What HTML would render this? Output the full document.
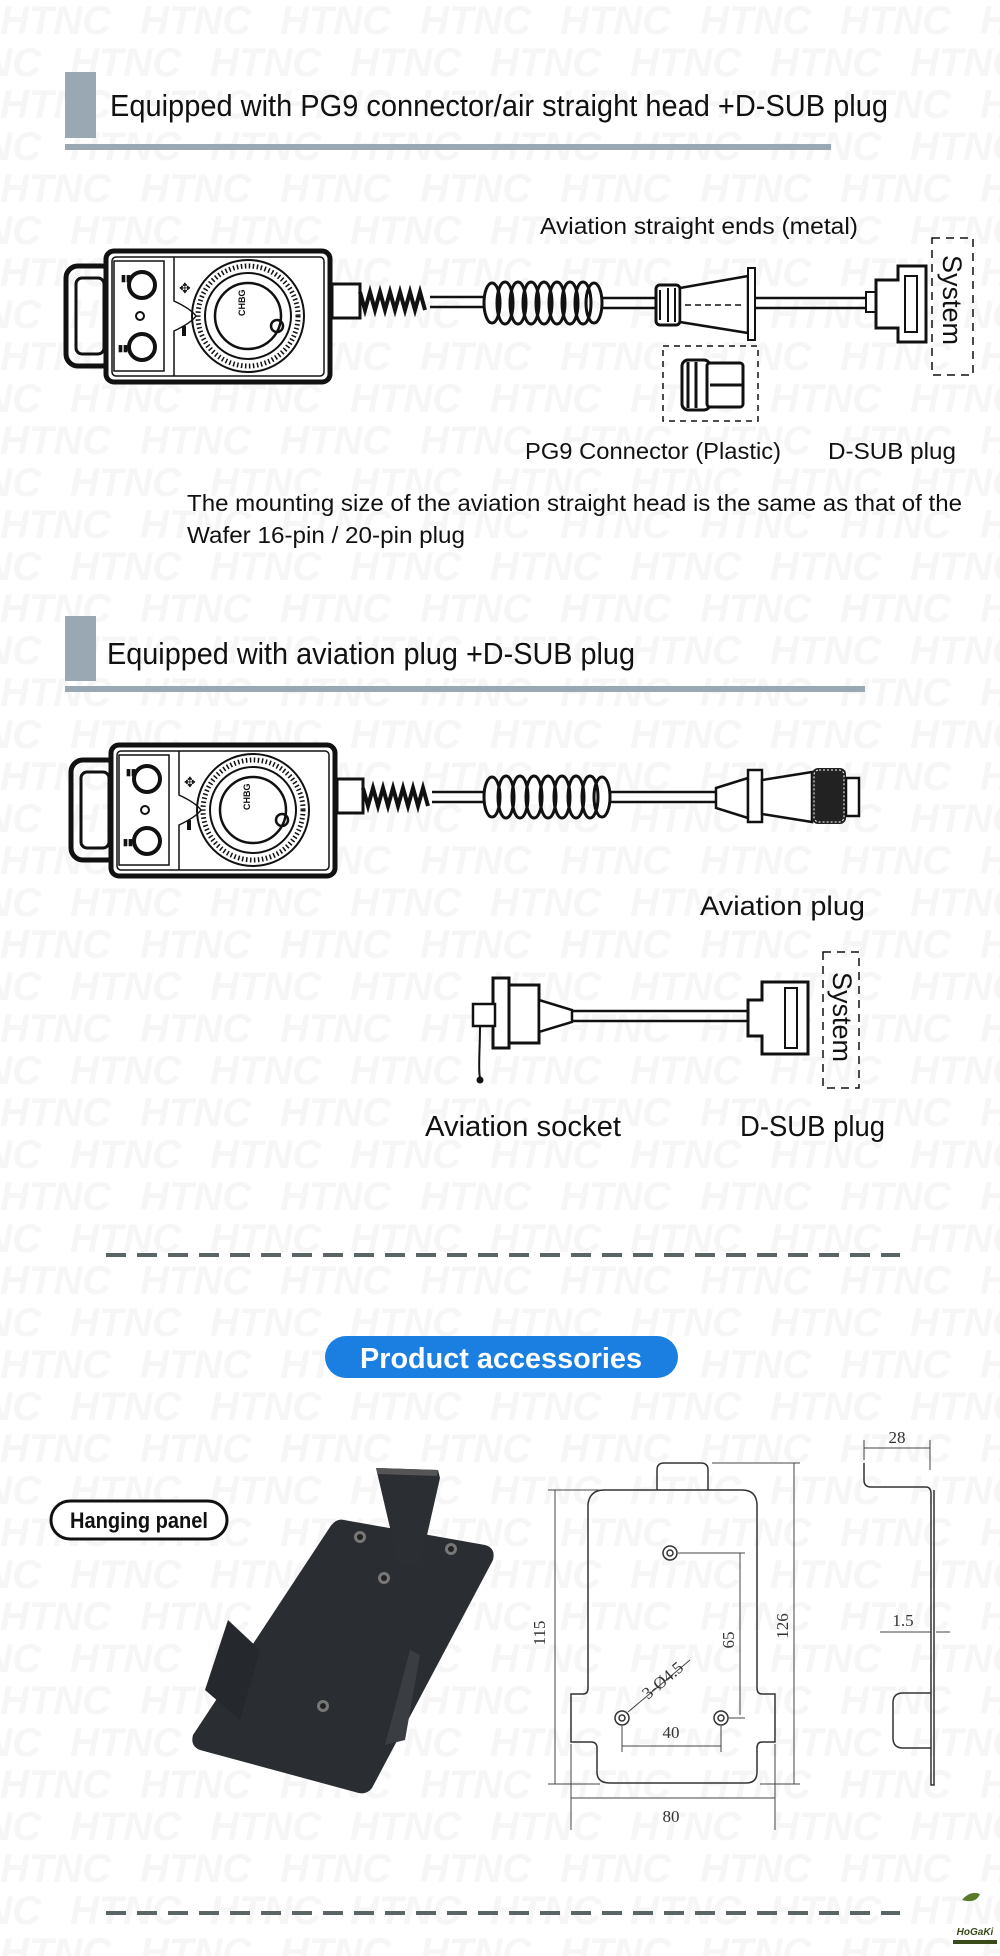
<!DOCTYPE html>
<html><head><meta charset="utf-8"><style>
html,body{margin:0;padding:0;background:#fff}
body{width:1000px;height:1956px;overflow:hidden;position:relative;font-family:"Liberation Sans",sans-serif}
svg{position:absolute;left:0;top:0}
</style></head><body>
<svg width="1000" height="1956" viewBox="0 0 1000 1956" xmlns="http://www.w3.org/2000/svg">
<defs>
<pattern id="wm" x="0" y="0" width="140" height="84" patternUnits="userSpaceOnUse">
<text x="0" y="34" font-family="Liberation Sans" font-weight="bold" font-style="italic" font-size="40" fill="#f6f6f6">HTNC</text>
<text x="70" y="76" font-family="Liberation Sans" font-weight="bold" font-style="italic" font-size="40" fill="#f6f6f6">HTNC</text>
<text x="-70" y="76" font-family="Liberation Sans" font-weight="bold" font-style="italic" font-size="40" fill="#f6f6f6">HTNC</text>
</pattern>
<g id="dev">
<rect x="0" y="15" width="48" height="100" rx="12" fill="none" stroke="#111" stroke-width="5"/>
<rect x="10" y="27" width="28" height="76" rx="6" fill="none" stroke="#111" stroke-width="3"/>
<rect x="40" y="0" width="224" height="131" rx="8" fill="#fff" stroke="#111" stroke-width="5"/>
<rect x="46" y="6" width="212" height="119" rx="4" fill="none" stroke="#111" stroke-width="1.5"/>
<rect x="48" y="10" width="50" height="110" fill="none" stroke="#111" stroke-width="1.5"/>
<circle cx="76" cy="34" r="13" fill="none" stroke="#111" stroke-width="4"/>
<circle cx="76" cy="96" r="13" fill="none" stroke="#111" stroke-width="4"/>
<circle cx="74" cy="65" r="4" fill="none" stroke="#111" stroke-width="2"/>
<text x="55" y="30" font-size="9" font-weight="bold" fill="#111">▮▮</text>
<text x="52" y="100" font-size="9" font-weight="bold" fill="#111">▮▮</text>
<path d="M108 6 V50 Q125 58 130 65 Q125 72 108 80 V125" fill="none" stroke="#111" stroke-width="1.5"/>
<circle cx="182" cy="65" r="56" fill="none" stroke="#111" stroke-width="2"/>
<circle cx="182" cy="65" r="50" fill="none" stroke="#111" stroke-width="5" stroke-dasharray="1.5 2.5"/>
<circle cx="182" cy="65" r="43" fill="none" stroke="#111" stroke-width="2"/>
<circle cx="182" cy="65" r="33" fill="none" stroke="#111" stroke-width="2.5"/>
<circle cx="211" cy="75" r="6" fill="none" stroke="#111" stroke-width="2.5"/>
<text x="172" y="72" font-size="9" font-weight="bold" fill="#111" transform="rotate(-90 172 65)">CHBG</text>
<text x="113" y="42" font-size="14" fill="#111">✥</text>
<rect x="116" y="75" width="4" height="10" fill="#111"/>
</g>
</defs>
<rect width="1000" height="1956" fill="url(#wm)"/>

<rect x="65" y="72" width="31" height="66" fill="#9aa8b3"/>
<rect x="65" y="144" width="766" height="6" fill="#9aa8b3"/>
<text x="110" y="116" font-size="31" fill="#111" textLength="778" lengthAdjust="spacingAndGlyphs">Equipped with PG9 connector/air straight head +D-SUB plug</text>
<text x="540" y="234" font-size="23" fill="#111" textLength="318" lengthAdjust="spacingAndGlyphs">Aviation straight ends (metal)</text>

<use href="#dev" x="66" y="251"/>
<rect x="332" y="284" width="28" height="34" fill="#fff" stroke="#111" stroke-width="3"/>
<path d="M360 292 l5 18 l5 -18 l5 18 l5 -18 l5 18 l5 -18 l5 18 l5 -18 l5 18 l5 -18 l5 18 l5 -18 l5 18" fill="none" stroke="#111" stroke-width="4"/>
<path d="M430 297 H485 M430 307 H485" stroke="#111" stroke-width="2.5"/>
<g fill="none" stroke="#111" stroke-width="3">
<ellipse cx="492" cy="303" rx="8" ry="20"/><ellipse cx="505" cy="303" rx="8" ry="21"/><ellipse cx="518" cy="303" rx="8" ry="21"/><ellipse cx="531" cy="303" rx="8" ry="21"/><ellipse cx="544" cy="303" rx="8" ry="21"/><ellipse cx="557" cy="303" rx="8" ry="21"/><ellipse cx="570" cy="303" rx="8" ry="21"/><ellipse cx="583" cy="303" rx="8" ry="21"/><ellipse cx="594" cy="303" rx="8" ry="20"/>
</g>
<path d="M602 298 H656 M602 308 H656" stroke="#111" stroke-width="2.5"/>
<rect x="656" y="285" width="24" height="40" rx="4" fill="#fff" stroke="#111" stroke-width="3"/>
<path d="M660 290 v30 M668 288 v34 M675 288 v34" stroke="#111" stroke-width="2"/>
<path d="M680 288 L748 276 V333 L680 322 Z" fill="#fff" stroke="#111" stroke-width="2.5"/>
<rect x="748" y="268" width="7" height="72" fill="#fff" stroke="#111" stroke-width="2"/>
<path d="M685 305 H745" stroke="#111" stroke-width="1.5" stroke-dasharray="6 4"/>
<path d="M755 298 H866 M755 308 H866" stroke="#111" stroke-width="2.5"/>
<rect x="866" y="292" width="10" height="20" fill="#fff" stroke="#111" stroke-width="2"/>
<path d="M876 280 h22 v-14 h28 v76 h-28 v-14 h-22 z" fill="#fff" stroke="#111" stroke-width="3"/>
<rect x="905" y="276" width="12" height="56" fill="none" stroke="#111" stroke-width="2"/>
<rect x="932" y="238" width="41" height="137" fill="none" stroke="#111" stroke-width="1.5" stroke-dasharray="8 6"/>
<text x="943" y="255" font-size="27" fill="#111" transform="rotate(90 943 255)">System</text>
<rect x="663" y="346" width="95" height="75" fill="none" stroke="#111" stroke-width="1.5" stroke-dasharray="6 5"/>
<rect x="682" y="360" width="28" height="50" rx="6" fill="#fff" stroke="#111" stroke-width="3"/>
<rect x="707" y="363" width="36" height="44" rx="3" fill="#fff" stroke="#111" stroke-width="3"/>
<path d="M688 362 v46 M696 362 v46 M710 385 h32" stroke="#111" stroke-width="3"/>
<text x="525" y="459" font-size="23" fill="#111" textLength="256" lengthAdjust="spacingAndGlyphs">PG9 Connector (Plastic)</text>
<text x="828" y="459" font-size="23" fill="#111" textLength="128" lengthAdjust="spacingAndGlyphs">D-SUB plug</text>
<text x="187" y="511" font-size="23" fill="#111" textLength="775" lengthAdjust="spacingAndGlyphs">The mounting size of the aviation straight head is the same as that of the</text>
<text x="187" y="543" font-size="23" fill="#111" textLength="278" lengthAdjust="spacingAndGlyphs">Wafer 16-pin / 20-pin plug</text>

<rect x="65" y="616" width="31" height="65" fill="#9aa8b3"/>
<rect x="65" y="686" width="800" height="6" fill="#9aa8b3"/>
<text x="107" y="664" font-size="31" fill="#111" textLength="528" lengthAdjust="spacingAndGlyphs">Equipped with aviation plug +D-SUB plug</text>
<use href="#dev" x="71" y="745"/>
<rect x="337" y="779" width="26" height="34" fill="#fff" stroke="#111" stroke-width="3"/>
<path d="M363 788 l5 18 l5 -18 l5 18 l5 -18 l5 18 l5 -18 l5 18 l5 -18 l5 18 l5 -18 l5 18 l5 -18 l5 18" fill="none" stroke="#111" stroke-width="4"/>
<path d="M432 792 H485 M432 802 H485" stroke="#111" stroke-width="2.5"/>
<g fill="none" stroke="#111" stroke-width="3">
<ellipse cx="492" cy="797" rx="8" ry="20"/><ellipse cx="506" cy="797" rx="8" ry="21"/><ellipse cx="520" cy="797" rx="8" ry="21"/><ellipse cx="534" cy="797" rx="8" ry="21"/><ellipse cx="548" cy="797" rx="8" ry="21"/><ellipse cx="562" cy="797" rx="8" ry="21"/><ellipse cx="576" cy="797" rx="8" ry="21"/><ellipse cx="590" cy="797" rx="8" ry="21"/><ellipse cx="602" cy="797" rx="8" ry="20"/>
</g>
<path d="M610 792 H716 M610 802 H716" stroke="#111" stroke-width="2.5"/>
<path d="M716 788 L748 778 V818 L716 808 Z" fill="#fff" stroke="#111" stroke-width="2.5"/>
<rect x="748" y="770" width="14" height="52" fill="#fff" stroke="#111" stroke-width="2.5"/>
<path d="M762 780 L812 772 V822 L762 814 Z" fill="#fff" stroke="#111" stroke-width="2.5"/>
<rect x="812" y="768" width="34" height="56" rx="6" fill="#222"/>
<rect x="814" y="770" width="30" height="52" rx="5" fill="none" stroke="#fff" stroke-width="1" stroke-dasharray="2 2"/>
<rect x="846" y="778" width="13" height="38" fill="#fff" stroke="#111" stroke-width="2.5"/>
<text x="700" y="915" font-size="27" fill="#111" textLength="165" lengthAdjust="spacingAndGlyphs">Aviation plug</text>

<rect x="493" y="978" width="16" height="70" fill="#fff" stroke="#111" stroke-width="3"/>
<rect x="509" y="985" width="30" height="58" fill="#fff" stroke="#111" stroke-width="3"/>
<rect x="473" y="1004" width="22" height="22" fill="#fff" stroke="#111" stroke-width="2.5"/>
<path d="M539 1000 L572 1010 V1022 L539 1032 Z" fill="#fff" stroke="#111" stroke-width="2.5"/>
<path d="M480 1026 C480 1050 478 1070 480 1078" fill="none" stroke="#111" stroke-width="2"/>
<circle cx="480" cy="1080" r="3.5" fill="#111"/>
<path d="M572 1011 H748 M572 1021 H748" stroke="#111" stroke-width="2.5"/>
<path d="M748 1000 h14 v-18 h46 v72 h-46 v-18 h-14 z" fill="#fff" stroke="#111" stroke-width="3"/>
<rect x="785" y="988" width="12" height="60" fill="none" stroke="#111" stroke-width="2"/>
<rect x="823" y="952" width="36" height="136" fill="none" stroke="#111" stroke-width="1.5" stroke-dasharray="8 6"/>
<text x="833" y="972" font-size="27" fill="#111" transform="rotate(90 833 972)">System</text>
<text x="425" y="1136" font-size="29" fill="#111" textLength="196" lengthAdjust="spacingAndGlyphs">Aviation socket</text>
<text x="740" y="1136" font-size="29" fill="#111" textLength="145" lengthAdjust="spacingAndGlyphs">D-SUB plug</text>

<line x1="106" y1="1255" x2="900" y2="1255" stroke="#5b6566" stroke-width="4" stroke-dasharray="20 11"/>

<rect x="325" y="1336" width="353" height="42" rx="21" fill="#1a7fe0"/>
<text x="501" y="1368" text-anchor="middle" font-size="29" font-weight="bold" fill="#fff" textLength="282" lengthAdjust="spacingAndGlyphs">Product accessories</text>
<rect x="51" y="1501" width="176" height="38" rx="19" fill="#fff" stroke="#111" stroke-width="3"/>
<text x="139" y="1528" text-anchor="middle" font-size="22" font-weight="bold" fill="#111" textLength="138" lengthAdjust="spacingAndGlyphs">Hanging panel</text>

<path d="M344 1520 L485 1545 Q496 1548 493 1560 L372 1788 Q366 1796 355 1792 L200 1750 Q190 1746 193 1735 L330 1527 Q336 1518 344 1520 Z" fill="#2a2d31"/>
<path d="M376 1468 L438 1470 L440 1478 L420 1566 L398 1562 Z" fill="#2b2e33"/>
<path d="M376 1468 L438 1470 L437 1476 L378 1474 Z" fill="#555"/>
<path d="M228 1620 L260 1650 L240 1720 L205 1690 Z" fill="#25282c"/>
<path d="M410 1650 L420 1655 L405 1740 L385 1745 Z" fill="#3a3d42"/>
<circle cx="360" cy="1537" r="6" fill="#777"/><circle cx="360" cy="1537" r="3" fill="#222"/>
<circle cx="451" cy="1549" r="6" fill="#777"/><circle cx="451" cy="1549" r="3" fill="#222"/>
<circle cx="384" cy="1578" r="6" fill="#777"/><circle cx="384" cy="1578" r="3" fill="#222"/>
<circle cx="323" cy="1706" r="6" fill="#777"/><circle cx="323" cy="1706" r="3" fill="#222"/>

<g fill="none" stroke="#333" stroke-width="1.5">
<path d="M657 1490 V1470 Q657 1463 664 1463 H701 Q708 1463 708 1470 V1490"/>
<path d="M604 1490 H742 Q756 1490 757 1504 V1688 Q757 1694 762 1694 H775 V1742 H762 Q757 1742 757 1748 V1772 Q757 1783 746 1783 H610 Q597 1783 597 1772 V1748 Q597 1742 591 1742 H571 V1694 H583 Q588 1694 588 1688 V1504 Q590 1490 604 1490 Z"/>
<circle cx="670" cy="1553" r="7"/><circle cx="670" cy="1553" r="3"/>
<circle cx="622" cy="1718" r="7"/><circle cx="622" cy="1718" r="3"/>
<circle cx="721" cy="1718" r="7"/><circle cx="721" cy="1718" r="3"/>
</g>
<g stroke="#444" stroke-width="1">
<path d="M548 1490 H600 M548 1784 H600 M555 1490 V1784"/>
<path d="M712 1463 H800 M760 1784 H800 M794 1463 V1784"/>
<path d="M678 1553 H745 M740 1553 V1715 M728 1718 H745"/>
<path d="M622 1726 V1752 M721 1726 V1752 M622 1746 H721"/>
<path d="M571 1744 V1830 M775 1744 V1830 M571 1798 H775"/>
<path d="M628 1712 L690 1660"/>
<path d="M864 1440 V1460 M930 1440 V1470 M864 1448 H930"/>
<path d="M880 1632 H931 M936 1632 H950"/>
</g>
<g fill="none" stroke="#333" stroke-width="1.5">
<path d="M864 1463 V1480 Q864 1487 871 1487 H926 Q931 1487 931 1494 V1785 H934 V1490"/>
<path d="M931 1693 H903 Q893 1693 893 1703 V1738 Q893 1748 903 1748 H931"/>
</g>
<g font-family="Liberation Serif" font-size="17" fill="#333">
<text x="545" y="1633" transform="rotate(-90 545 1633)" text-anchor="middle">115</text>
<text x="788" y="1626" transform="rotate(-90 788 1626)" text-anchor="middle">126</text>
<text x="734" y="1640" transform="rotate(-90 734 1640)" text-anchor="middle">65</text>
<text x="671" y="1738" text-anchor="middle">40</text>
<text x="671" y="1822" text-anchor="middle">80</text>
<text x="897" y="1443" text-anchor="middle">28</text>
<text x="903" y="1626" text-anchor="middle">1.5</text>
<text x="648" y="1700" transform="rotate(-40 648 1700)">3-Ø4.5</text>
</g>

<line x1="106" y1="1913" x2="900" y2="1913" stroke="#5b6566" stroke-width="4" stroke-dasharray="20 11"/>
<path d="M962 1900 q8 -10 18 -6 q-4 10 -18 6 z" fill="#5a7a2a"/>
<text x="975" y="1935" text-anchor="middle" font-size="10" font-weight="bold" font-style="italic" fill="#3a4a1a">HoGaKi</text>
<rect x="953" y="1940" width="44" height="4" fill="#3a4a1a"/>
</svg>
</body></html>
